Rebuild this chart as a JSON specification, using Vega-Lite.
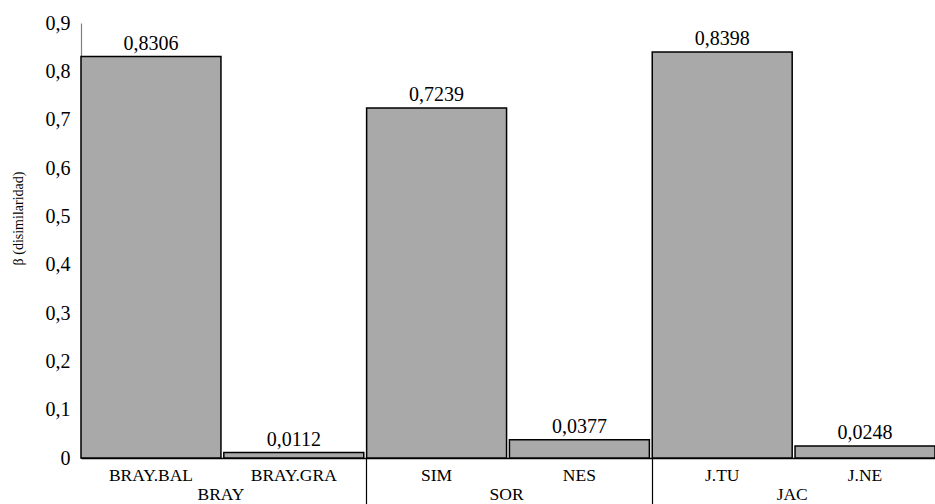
{
  "$schema": "https://vega.github.io/schema/vega-lite/v6.json",
  "width": 854,
  "height": 435,
  "autosize": {"type": "none"},
  "padding": {"left": 81, "top": 23, "right": 0, "bottom": 46},
  "config": {
    "locale": {"number": {"decimal": ",", "thousands": ".", "grouping": [3], "currency": ["", " €"]}},
    "font": "Liberation Serif",
    "text": {"font": "Liberation Serif"},
    "axis": {"labelFont": "Liberation Serif", "titleFont": "Liberation Serif"},
    "view": {"stroke": null}
  },
  "datasets": {
    "bars": [
      {"group": "BRAY", "sub": "BRAY.BAL", "beta": 0.8306},
      {"group": "BRAY", "sub": "BRAY.GRA", "beta": 0.0112},
      {"group": "SOR", "sub": "SIM", "beta": 0.7239},
      {"group": "SOR", "sub": "NES", "beta": 0.0377},
      {"group": "JAC", "sub": "J.TU", "beta": 0.8398},
      {"group": "JAC", "sub": "J.NE", "beta": 0.0248}
    ],
    "groups": [
      {"group": "BRAY", "left": "BRAY.BAL"},
      {"group": "SOR", "left": "SIM"},
      {"group": "JAC", "left": "J.TU"}
    ]
  },
  "resolve": {"axis": {"x": "independent"}},
  "layer": [
    {
      "data": {"name": "bars"},
      "mark": {"type": "bar", "fill": "#a9a9a9", "stroke": "#000000", "strokeWidth": 1.5},
      "encoding": {
        "x": {
          "field": "sub", "type": "nominal", "sort": null,
          "scale": {"domain": ["BRAY.BAL", "BRAY.GRA", "SIM", "NES", "J.TU", "J.NE"], "paddingInner": 0.02, "paddingOuter": 0},
          "axis": {"orient": "bottom", "title": null, "labelAngle": 0, "ticks": false, "domainColor": "#000000", "domainWidth": 1.5, "labelFontSize": 17.5, "labelColor": "#000000", "labelPadding": 8}
        },
        "y": {
          "field": "beta", "type": "quantitative",
          "scale": {"domain": [0, 0.9], "nice": false},
          "axis": {"title": "β (disimilaridad)", "titleFontSize": 14, "titleFontWeight": "normal", "titleColor": "#000000", "titlePadding": 20, "titleY": 195, "values": [0, 0.1, 0.2, 0.3, 0.4, 0.5, 0.6, 0.7, 0.8, 0.9], "format": ".1~f", "ticks": false, "grid": false, "domainColor": "#808080", "domainWidth": 1.2, "labelFontSize": 20, "labelColor": "#000000", "labelPadding": 11}
        }
      }
    },
    {
      "data": {"name": "bars"},
      "mark": {"type": "text", "baseline": "alphabetic", "dy": -7, "fontSize": 20, "color": "#000000"},
      "encoding": {
        "x": {"field": "sub", "type": "nominal", "sort": null, "axis": null},
        "y": {"field": "beta", "type": "quantitative"},
        "text": {"field": "beta", "type": "quantitative", "format": ".4f"}
      }
    },
    {
      "data": {"name": "groups"},
      "mark": {"type": "text", "baseline": "top", "dy": 28, "fontSize": 17.5, "color": "#000000"},
      "encoding": {
        "x": {
          "field": "left", "type": "nominal", "sort": null, "bandPosition": 1,
          "axis": {"orient": "bottom", "title": null, "values": ["BRAY.BAL", "SIM", "J.TU"], "bandPosition": 0, "labels": false, "domain": false, "ticks": true, "tickSize": 46, "tickColor": "#000000", "tickWidth": 1.2}
        },
        "y": {"datum": 0, "type": "quantitative"},
        "text": {"field": "group", "type": "nominal"}
      }
    }
  ]
}
